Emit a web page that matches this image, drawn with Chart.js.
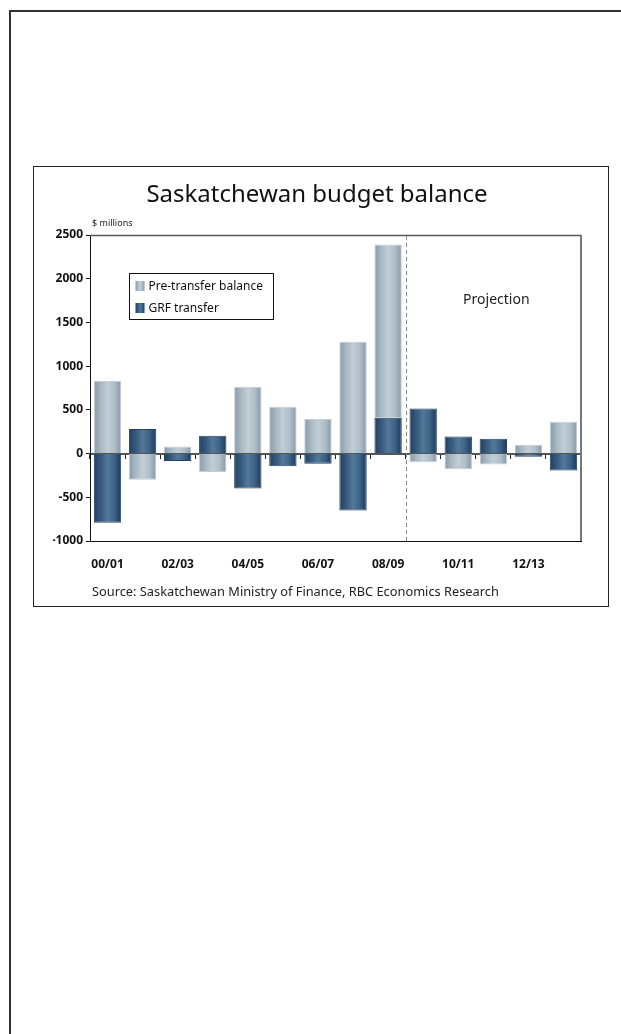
<!DOCTYPE html>
<html>
<head>
<meta charset="utf-8">
<script src="https://cdn.jsdelivr.net/npm/chart.js@4/dist/chart.umd.min.js"></script>
<style>
  html, body { margin: 0; padding: 0; background: #fff; }
  body { width: 621px; height: 1034px; position: relative; overflow: hidden; }
  #frameTop { position: absolute; left: 9px; top: 10px; width: 612px; height: 2px; background: #333; }
  #frameLeft { position: absolute; left: 9px; top: 10px; width: 2px; height: 1024px; background: #333; }
  #box { position: absolute; left: 33px; top: 166px; width: 576px; height: 441px; box-sizing: border-box; border: 1px solid #222; }
  #box canvas { display: block; }
</style>
</head>
<body>
<div id="frameTop"></div>
<div id="frameLeft"></div>
<div id="box"><canvas id="c" width="574" height="439"></canvas></div>
<script>
// ---- data ----
const categories = ['00/01','01/02','02/03','03/04','04/05','05/06','06/07','07/08','08/09','09/10','10/11','11/12','12/13','13/14'];
const preTransfer = [830, -300, 80, -210, 765, 535, 395, 1280, 1980, -100, -180, -125, 100, 365];
const grfTransfer = [-790, 280, -85, 205, -400, -145, -115, -650, 410, 515, 195, 170, -35, -195];
const xTickLabels = ['00/01','02/03','04/05','06/07','08/09','10/11','12/13'];
const yTickValues = [-1000, -500, 0, 500, 1000, 1500, 2000, 2500];
const seriesNames = ['Pre-transfer balance', 'GRF transfer'];
const titleText = 'Saskatchewan budget balance';
const unitText = '$ millions';
const sourceText = 'Source: Saskatchewan Ministry of Finance, RBC Economics Research';
const projectionText = 'Projection';

const BAR_PCT = 0.78;
const FONT = "'Noto Sans', 'DejaVu Sans', sans-serif";
Chart.defaults.font.family = FONT;
Chart.defaults.color = '#111';

const palettes = {
  light: { stops: ['#879aa8', '#a9b8c3', '#c3ced6', '#b0bec8', '#8698a6'], border: '#c2ccd4', flat: '#aebcc6' },
  dark:  { stops: ['#1f3f62', '#36597c', '#52789a', '#3c6285', '#1b3a5c'], border: '#24425f', flat: '#3d6082' }
};

function makeGradient(chart, cx, w, pal) {
  const g = chart.ctx.createLinearGradient(cx - w / 2, 0, cx + w / 2, 0);
  pal.stops.forEach((c, i) => g.addColorStop(i / (pal.stops.length - 1), c));
  return g;
}

function barFill(pal) {
  return function (ctx) {
    const chart = ctx.chart;
    const xs = chart.scales && chart.scales.x;
    if (!xs || ctx.type !== 'data' || !isFinite(xs.width) || xs.width <= 0) return pal.flat;
    const cx = xs.getPixelForValue(ctx.dataIndex);
    const w = xs.width / categories.length * BAR_PCT;
    return makeGradient(chart, cx, w, pal);
  };
}

const decor = {
  id: 'decor',
  afterDraw(chart) {
    const { ctx, chartArea: a, scales } = chart;
    const xs = scales.x, ys = scales.y;
    ctx.save();
    // plot frame top & right
    ctx.strokeStyle = '#555';
    ctx.lineWidth = 1.5;
    ctx.beginPath();
    ctx.moveTo(a.left, a.top + 0.5);
    ctx.lineTo(a.right + 1, a.top + 0.5);
    ctx.stroke();
    ctx.strokeStyle = '#777';
    ctx.lineWidth = 2;
    ctx.beginPath();
    ctx.moveTo(a.right, a.top);
    ctx.lineTo(a.right, a.bottom);
    ctx.stroke();

    // dashed projection divider between 08/09 and 09/10
    const dx = Math.round((xs.getPixelForValue(8) + xs.getPixelForValue(9)) / 2) + 0.5;
    ctx.strokeStyle = '#8a8a8a';
    ctx.lineWidth = 1;
    ctx.setLineDash([4, 3]);
    ctx.beginPath();
    ctx.moveTo(dx, a.top + 1);
    ctx.lineTo(dx, a.bottom);
    ctx.stroke();
    ctx.setLineDash([]);

    // Projection label
    ctx.fillStyle = '#222';
    ctx.font = '14px ' + FONT;
    ctx.textAlign = 'center';
    ctx.textBaseline = 'middle';
    ctx.fillText(projectionText, xs.getPixelForValue(11) + 3, ys.getPixelForValue(1760));

    // unit label
    ctx.font = '9px ' + FONT;
    ctx.textAlign = 'left';
    ctx.textBaseline = 'middle';
    ctx.fillStyle = '#222';
    ctx.fillText(unitText, a.left + 2, a.top - 12);

    // legend
    const lx = a.left + 39.5, ly = a.top + 38.5, lw = 144, lh = 46;
    ctx.fillStyle = '#fff';
    ctx.fillRect(lx, ly, lw, lh);
    ctx.strokeStyle = '#111';
    ctx.lineWidth = 1;
    ctx.strokeRect(lx, ly, lw, lh);
    const pals = [palettes.light, palettes.dark];
    ctx.font = '12px ' + FONT;
    seriesNames.forEach((name, i) => {
      const cy = ly + 12.5 + i * 22;
      const sx = lx + 6;
      ctx.fillStyle = makeGradient(chart, sx + 4.5, 9, pals[i]);
      ctx.fillRect(sx, cy - 5, 9, 10);
      ctx.fillStyle = '#111';
      ctx.textAlign = 'left';
      ctx.textBaseline = 'middle';
      ctx.fillText(name, lx + 19, cy + 0.5);
    });

    // source
    ctx.font = '12.8px ' + FONT;
    ctx.fillStyle = '#222';
    ctx.textAlign = 'left';
    ctx.textBaseline = 'middle';
    ctx.fillText(sourceText, a.left + 2, chart.height - 14);
    ctx.restore();
  }
};

new Chart(document.getElementById('c'), {
  type: 'bar',
  data: {
    labels: categories,
    datasets: [
      {
        label: seriesNames[1],
        data: grfTransfer,
        backgroundColor: barFill(palettes.dark),
        borderColor: palettes.dark.border,
        borderWidth: 1,
        barPercentage: BAR_PCT,
        categoryPercentage: 1,
        xAxisID: 'x'
      },
      {
        label: seriesNames[0],
        data: preTransfer,
        backgroundColor: barFill(palettes.light),
        borderColor: palettes.light.border,
        borderWidth: 1,
        barPercentage: BAR_PCT,
        categoryPercentage: 1,
        xAxisID: 'x'
      }
    ]
  },
  options: {
    responsive: false,
    animation: false,
    devicePixelRatio: 1,
    layout: { padding: { left: 19, right: 27, top: 0, bottom: 0 } },
    plugins: {
      legend: { display: false },
      tooltip: { enabled: false },
      title: {
        display: true,
        text: titleText,
        color: '#111',
        font: { size: 24, weight: 'normal', family: FONT },
        padding: { top: 14.2, bottom: 25.0 }
      }
    },
    scales: {
      x: {
        stacked: true,
        position: 'bottom',
        offset: true,
        grid: { display: true, drawOnChartArea: false, drawTicks: false, offset: true, color: 'transparent' },
        border: { display: true, color: '#111', width: 1 },
        ticks: {
          autoSkip: false,
          maxRotation: 0,
          padding: 16,
          color: '#111',
          font: { size: 12, weight: 'bold' },
          callback: function (v, i) { const l = categories[i]; return xTickLabels.includes(l) ? l : ''; }
        },
        afterFit: function (s) { s.height = 65; }
      },
      x0: {
        type: 'category',
        position: { y: 0 },
        offset: true,
        z: 1,
        grid: { display: true, drawOnChartArea: false, drawTicks: true, tickLength: 4, offset: true, color: '#222', lineWidth: 1 },
        border: { display: true, color: '#555', width: 2 },
        ticks: { display: false }
      },
      y: {
        stacked: true,
        min: -1000,
        max: 2500,
        grid: { display: true, drawOnChartArea: false, drawTicks: true, tickLength: 4, color: '#111' },
        border: { display: true, color: '#111', width: 1 },
        afterBuildTicks: function (s) { s.ticks = yTickValues.map(v => ({ value: v })); },
        ticks: {
          padding: 3,
          color: '#111',
          font: { size: 12, weight: 'bold' },
          callback: function (v) { return String(v); }
        },
        afterFit: function (s) { s.width = 37; }
      }
    }
  },
  plugins: [decor]
});
</script>
</body>
</html>
